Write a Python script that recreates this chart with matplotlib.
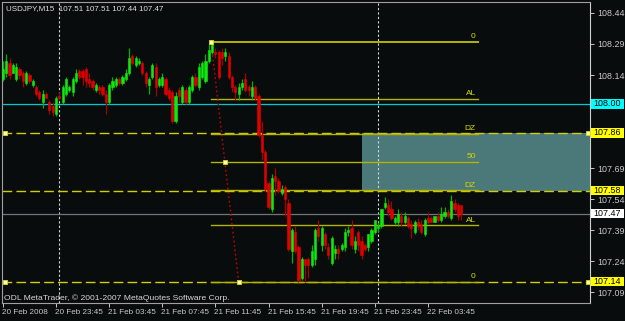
import matplotlib
matplotlib.use('Agg')
import matplotlib.pyplot as plt
import matplotlib.transforms as mtransforms
from matplotlib.patches import Rectangle

# USDJPY M15, first bar 20 Feb 2008 19:45
opens = [108.12, 108.15, 108.20, 108.15, 108.12, 108.17, 108.15, 108.10, 108.14, 108.09,
         108.08, 108.06, 108.01, 108.05, 108.01, 107.99, 107.95, 108.04, 108.01, 108.05,
         108.07, 108.06, 108.11, 108.16, 108.16, 108.17, 108.12, 108.11, 108.07, 108.08,
         108.08, 108.05, 108.01, 108.08, 108.09, 108.12, 108.10, 108.12, 108.15, 108.23,
         108.19, 108.20, 108.20, 108.15, 108.09, 108.13, 108.18, 108.09, 108.09, 108.12,
         108.07, 108.06, 107.92, 108.07, 108.01, 108.07, 108.01, 108.07, 108.13, 108.08,
         108.13, 108.11, 108.21, 108.25, 108.25, 108.25, 108.25, 108.23, 108.23, 108.13,
         108.08, 108.05, 108.08, 108.12, 108.08, 108.04, 108.08, 108.04, 107.85, 107.77,
         107.62, 107.49, 107.65, 107.63, 107.57, 107.60, 107.52, 107.29, 107.38, 107.31,
         107.16, 107.25, 107.25, 107.22, 107.25, 107.40, 107.32, 107.37, 107.31, 107.23,
         107.28, 107.30, 107.30, 107.31, 107.38, 107.40, 107.30, 107.38, 107.34, 107.32,
         107.31, 107.34, 107.38, 107.40, 107.41, 107.50, 107.51, 107.49, 107.43, 107.43,
         107.46, 107.43, 107.45, 107.42, 107.38, 107.43, 107.42, 107.37, 107.45, 107.45,
         107.43, 107.46, 107.44, 107.46, 107.48, 107.45, 107.52, 107.51, 107.51]
highs = [108.21, 108.24, 108.22, 108.20, 108.20, 108.18, 108.16, 108.16, 108.15, 108.12,
         108.09, 108.07, 108.07, 108.06, 108.02, 108.01, 108.04, 108.06, 108.09, 108.13,
         108.09, 108.13, 108.17, 108.17, 108.17, 108.18, 108.15, 108.12, 108.10, 108.09,
         108.09, 108.07, 108.10, 108.13, 108.13, 108.13, 108.14, 108.17, 108.27, 108.24,
         108.23, 108.22, 108.21, 108.16, 108.13, 108.20, 108.20, 108.13, 108.15, 108.13,
         108.08, 108.07, 108.06, 108.08, 108.09, 108.08, 108.09, 108.14, 108.15, 108.20,
         108.21, 108.24, 108.29, 108.30, 108.27, 108.26, 108.27, 108.27, 108.25, 108.14,
         108.09, 108.10, 108.12, 108.15, 108.09, 108.11, 108.09, 108.05, 107.92, 107.78,
         107.63, 107.66, 107.69, 107.64, 107.61, 107.61, 107.54, 107.40, 107.41, 107.32,
         107.26, 107.25, 107.26, 107.32, 107.40, 107.44, 107.41, 107.38, 107.33, 107.36,
         107.32, 107.32, 107.33, 107.40, 107.41, 107.44, 107.36, 107.39, 107.36, 107.33,
         107.37, 107.40, 107.44, 107.43, 107.49, 107.55, 107.54, 107.53, 107.46, 107.49,
         107.48, 107.48, 107.46, 107.44, 107.44, 107.45, 107.44, 107.45, 107.48, 107.46,
         107.46, 107.48, 107.50, 107.50, 107.49, 107.56, 107.54, 107.52, 107.51]
lows = [108.11, 108.13, 108.12, 108.15, 108.11, 108.12, 108.08, 108.09, 108.10, 108.08,
        108.04, 108.02, 107.98, 108.03, 107.95, 107.94, 107.94, 108.02, 108.00, 108.04,
        108.06, 108.04, 108.10, 108.12, 108.09, 108.08, 108.08, 108.07, 108.06, 108.05,
        108.04, 107.95, 108.00, 108.07, 108.08, 108.09, 108.09, 108.11, 108.14, 108.19,
        108.18, 108.19, 108.14, 108.08, 108.05, 108.12, 108.04, 108.08, 108.08, 108.04,
        108.02, 107.91, 107.91, 108.01, 108.00, 108.00, 108.00, 108.06, 108.08, 108.07,
        108.12, 108.10, 108.20, 108.24, 108.22, 108.12, 108.19, 108.21, 108.12, 108.06,
        108.02, 108.02, 108.07, 108.06, 108.04, 108.02, 108.02, 107.84, 107.73, 107.58,
        107.49, 107.48, 107.56, 107.57, 107.56, 107.46, 107.29, 107.23, 107.28, 107.14,
        107.15, 107.14, 107.16, 107.21, 107.22, 107.34, 107.29, 107.30, 107.25, 107.22,
        107.25, 107.25, 107.29, 107.29, 107.36, 107.30, 107.28, 107.29, 107.25, 107.29,
        107.29, 107.33, 107.37, 107.38, 107.40, 107.49, 107.46, 107.44, 107.42, 107.41,
        107.41, 107.42, 107.40, 107.35, 107.37, 107.39, 107.37, 107.36, 107.42, 107.43,
        107.43, 107.43, 107.43, 107.45, 107.45, 107.44, 107.48, 107.44, 107.44]
closes = [108.17, 108.21, 108.14, 108.19, 108.18, 108.14, 108.11, 108.15, 108.11, 108.11,
          108.05, 108.03, 108.05, 108.03, 107.97, 107.96, 108.03, 108.03, 108.08, 108.12,
          108.08, 108.12, 108.15, 108.13, 108.13, 108.11, 108.10, 108.08, 108.09, 108.07,
          108.05, 108.01, 108.09, 108.11, 108.12, 108.10, 108.13, 108.15, 108.22, 108.20,
          108.22, 108.21, 108.15, 108.10, 108.12, 108.19, 108.08, 108.12, 108.13, 108.05,
          108.03, 107.92, 108.04, 108.04, 108.08, 108.01, 108.08, 108.13, 108.09, 108.18,
          108.20, 108.21, 108.26, 108.29, 108.24, 108.13, 108.22, 108.25, 108.13, 108.08,
          108.06, 108.08, 108.10, 108.07, 108.07, 108.08, 108.03, 107.85, 107.77, 107.59,
          107.50, 107.64, 107.63, 107.58, 107.59, 107.54, 107.30, 107.39, 107.29, 107.15,
          107.25, 107.22, 107.22, 107.29, 107.39, 107.36, 107.40, 107.32, 107.27, 107.35,
          107.30, 107.28, 107.32, 107.38, 107.39, 107.32, 107.34, 107.32, 107.27, 107.30,
          107.37, 107.39, 107.44, 107.41, 107.49, 107.52, 107.48, 107.45, 107.45, 107.47,
          107.43, 107.46, 107.41, 107.40, 107.43, 107.41, 107.38, 107.44, 107.43, 107.43,
          107.46, 107.44, 107.47, 107.48, 107.46, 107.53, 107.49, 107.46, 107.47]

time_bars = [0, 16, 32, 48, 64, 80, 96, 112, 128]
time_labels = ['20 Feb 2008', '20 Feb 23:45', '21 Feb 03:45', '21 Feb 07:45', '21 Feb 11:45',
               '21 Feb 15:45', '21 Feb 19:45', '21 Feb 23:45', '22 Feb 03:45']
price_ticks = [108.44, 108.29, 108.14, 107.99, 107.84, 107.69, 107.54, 107.39, 107.24, 107.09]
hidden_ticks = [107.99, 107.84]   # covered by the price boxes
separators = [17, 113]

fib_high, fib_low = 108.30, 107.14
fib_bar1, fib_bar2 = 63, 71
fib_ratios = [0.0, 0.236, 0.382, 0.5, 0.618, 0.764, 1.0]
fib_names = ['0', 'AL', 'DZ', '50', 'DZ', 'AL', '0']

dashed_levels = [107.86, 107.58, 107.14]
marked_levels = [107.86, 107.14]
cyan_level = 108.00
bid = 107.47
zone_lo, zone_hi, zone_bar = 107.58, 107.86, 108

BG = '#080c0c'
TXT = '#c8c8c8'
W, H = 625, 321

fig = plt.figure(figsize=(W / 100, H / 100), dpi=100, facecolor=BG)
# plot area in pixels: x 2..590, y 2..303
ax = fig.add_axes([2 / W, (H - 303) / H, 588 / W, 301 / H], facecolor=BG)
ax.set_xlim(-0.26, 176.8)
ax.set_ylim(107.038, 108.493)

def px_x(p):
    return (p - 2) / 588

# teal zone
ax.add_patch(Rectangle((zone_bar, zone_lo), 200, zone_hi - zone_lo,
                       facecolor='#4b7878', edgecolor='none', zorder=1))

# period separators
for s in separators:
    ax.axvline(s - 0.15, color='#d8d8d8', lw=0.8, ls=(0, (2, 2)), zorder=2)

# horizontal lines
ax.axhline(cyan_level, color='#00c8d0', lw=0.9, zorder=2)
ax.axhline(bid, color='#70757a', lw=0.9, zorder=2)
for lv in dashed_levels:
    ax.axhline(lv, color='#d0d000', lw=1.0, ls=(0, (7, 3)), zorder=2)

# fibo levels
fib_right = 143
for r, name in zip(fib_ratios, fib_names):
    lv = fib_high - r * (fib_high - fib_low)
    ax.plot([fib_bar1 - 0.3, fib_right], [lv, lv], color='#b4b400',
            lw=1.4 if r == 0.0 else 1.0, zorder=3)
    ax.text(fib_right - 0.6, lv + 0.008, name, color='#d8d800', fontsize=6,
            family='Liberation Sans', ha='right', va='bottom', zorder=4)
ax.plot([fib_bar1 - 0.3, fib_bar2], [fib_high, fib_low], color='#d00000', lw=1.0,
        ls=(0, (1.2, 2.0)), zorder=5)

# candles
for i in range(len(opens)):
    o, h, l, c = opens[i], highs[i], lows[i], closes[i]
    up = c >= o
    wick = '#00b400' if up else '#a80000'
    body = '#10e810' if up else '#e00000'
    ax.plot([i, i], [l, h], color=wick, lw=0.9, zorder=6, solid_capstyle='butt')
    ax.add_patch(Rectangle((i - 0.33, min(o, c)), 0.66, max(abs(c - o), 0.003),
                           facecolor=body, edgecolor=body, lw=0.4, zorder=7))

# selection markers
mk = dict(marker='s', markersize=3.2, mfc='#ffffd0', mec='#e0e000', mew=0.6, zorder=8,
          clip_on=False, ls='none')
ax.plot([fib_bar1 - 0.3, fib_bar2, (fib_bar1 + fib_bar2) / 2],
        [fib_high, fib_low, (fib_high + fib_low) / 2], **mk)
for lv in marked_levels:
    ax.plot([0.65, 176.2], [lv, lv], **mk)

# spines / axes
for sp in ax.spines.values():
    sp.set_color('#a0a0a0')
    sp.set_linewidth(0.8)
ax.spines['right'].set_color('#d0d0d0')

ax.yaxis.tick_right()
ax.set_yticks(price_ticks)
ax.set_yticklabels(['' if p in hidden_ticks else '%.2f' % p for p in price_ticks])
ax.tick_params(axis='y', colors=TXT, labelsize=6.4, length=3, width=0.7, pad=2,
               direction='out')
ax.set_xticks(time_bars)
ax.set_xticklabels(time_labels, ha='left')
ax.tick_params(axis='x', colors=TXT, labelsize=5.9, length=3, width=0.7, pad=1.5,
               direction='out')
for t in ax.get_xticklabels() + ax.get_yticklabels():
    t.set_family('Liberation Sans')
for t in ax.get_xticklabels():
    t.set_transform(t.get_transform() + mtransforms.ScaledTranslation(-1 / 100, 0, fig.dpi_scale_trans))

# price boxes on the right axis
blend = mtransforms.blended_transform_factory(ax.transAxes, ax.transData)
boxes = [(cyan_level, '#00ffff'), (dashed_levels[0], '#ffff00'),
         (dashed_levels[1], '#ffff00'), (bid, '#ffffff'), (dashed_levels[2], '#ffff00')]
bx0, bx1 = px_x(591), px_x(624)
for lv, col in boxes:
    ax.add_patch(Rectangle((bx0, lv - 0.022), bx1 - bx0, 0.044, transform=blend,
                           facecolor=col, edgecolor='none', clip_on=False, zorder=10))
    ax.text((bx0 + bx1) / 2, lv, '%.2f' % lv, transform=blend, ha='center', va='center',
            fontsize=6.4, family='Liberation Sans', color='black', zorder=11, clip_on=False)

# header and copyright
ax.text(px_x(6), (303 - 8.5) / 301, 'USDJPY,M15  107.51 107.51 107.44 107.47',
        transform=ax.transAxes, color='#e0e0e0', fontsize=5.8, family='Liberation Sans',
        ha='left', va='center', zorder=12)
ax.text(px_x(4), (303 - 298) / 301, 'ODL MetaTrader, \u00a9 2001-2007 MetaQuotes Software Corp.',
        transform=ax.transAxes, color='#d8d8d8', fontsize=6.1, family='Liberation Sans',
        ha='left', va='center', zorder=12)

fig.savefig('out.png', dpi=100, facecolor=BG)
